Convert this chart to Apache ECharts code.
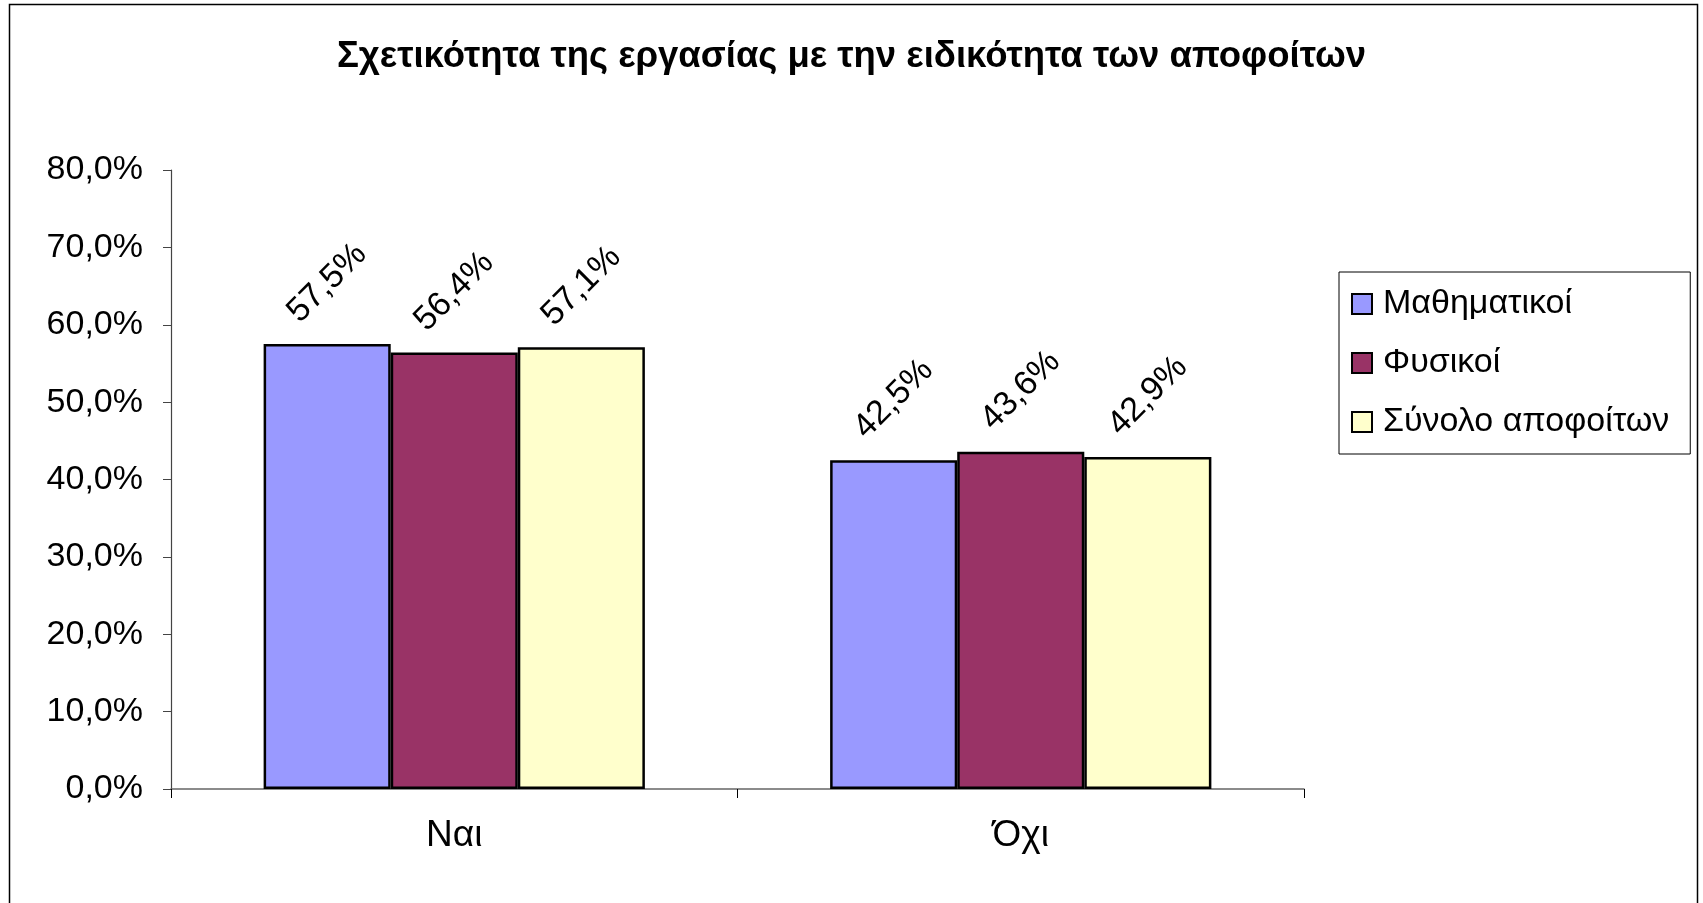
<!DOCTYPE html>
<html>
<head>
<meta charset="utf-8">
<title>Σχετικότητα της εργασίας</title>
<script src="https://cdn.jsdelivr.net/npm/echarts@6/dist/echarts.min.js"></script>
<style>
  html, body { margin: 0; padding: 0; background: #fff; }
  #chart { width: 1703px; height: 903px; }
</style>
</head>
<body>
<div id="chart"></div>
<script>
// data
var categories = ['Ναι', 'Όχι'];
var seriesNames = ['Μαθηματικοί', 'Φυσικοί', 'Σύνολο αποφοίτων'];
var mathematicians = [57.5, 42.5];
var physicists = [56.4, 43.6];
var allGraduates = [57.1, 42.9];
var seriesColors = ['#9999FF', '#993366', '#FFFFCC'];
var axisMin = 0, axisMax = 80, axisStep = 10;

var FONT = '"Liberation Sans", Arial, sans-serif';

function pct(v) {
  return v.toFixed(1).replace('.', ',') + '%';
}

function barSeries(name, data, color) {
  return {
    name: name,
    type: 'bar',
    data: data,
    barGap: '0%',
    barCategoryGap: '32.7%',
    itemStyle: { color: color, borderColor: '#000', borderWidth: 2.5 },
    label: {
      show: true,
      position: 'top',
      distance: 61,
      rotate: 45,
      align: 'center',
      verticalAlign: 'middle',
      fontFamily: FONT,
      fontSize: 34,
      color: '#000',
      formatter: function (p) { return pct(p.value); }
    },
    emphasis: { disabled: true }
  };
}

var chart = echarts.init(document.getElementById('chart'), null, { renderer: 'canvas' });

var option = {
  backgroundColor: '#fff',
  animation: false,
  textStyle: { fontFamily: FONT },
  title: {
    text: 'Σχετικότητα της εργασίας με την ειδικότητα των αποφοίτων',
    left: 'center',
    top: 33,
    textStyle: { fontFamily: FONT, fontSize: 36.5, fontWeight: 'bold', color: '#000' }
  },
  graphic: [{
    type: 'rect',
    silent: true,
    z: -1,
    shape: { x: 9.5, y: 4.5, width: 1688, height: 930 },
    style: { fill: 'none', stroke: '#000', lineWidth: 1.5 }
  }],
  legend: {
    orient: 'vertical',
    left: 1339,
    top: 272,
    padding: [15, 21, 15, 12],
    itemGap: 25,
    itemWidth: 20,
    itemHeight: 20,
    icon: 'rect',
    borderColor: '#000',
    borderWidth: 1,
    data: seriesNames,
    textStyle: { fontFamily: FONT, fontSize: 34, color: '#000', padding: [0, 0, 0, 6] }
  },
  grid: { left: 171, right: 399, top: 170, bottom: 114 },
  xAxis: {
    type: 'category',
    data: categories,
    boundaryGap: true,
    axisLine: { lineStyle: { color: '#666', width: 1.5 } },
    axisTick: { show: true, length: 9, alignWithLabel: false, lineStyle: { color: '#000' } },
    axisLabel: { fontFamily: FONT, fontSize: 37, color: '#000', margin: 28 }
  },
  yAxis: {
    type: 'value',
    min: axisMin,
    max: axisMax,
    interval: axisStep,
    splitLine: { show: false },
    axisLine: { show: true, lineStyle: { color: '#444', width: 1.2 } },
    axisTick: { show: true, length: 8, lineStyle: { color: '#444' } },
    axisLabel: {
      fontFamily: FONT, fontSize: 34, color: '#000', margin: 28,
      formatter: function (v) { return pct(v); }
    }
  },
  series: [
    barSeries(seriesNames[0], mathematicians, seriesColors[0]),
    barSeries(seriesNames[1], physicists, seriesColors[1]),
    barSeries(seriesNames[2], allGraduates, seriesColors[2])
  ]
};

chart.setOption(option);
</script>
</body>
</html>
